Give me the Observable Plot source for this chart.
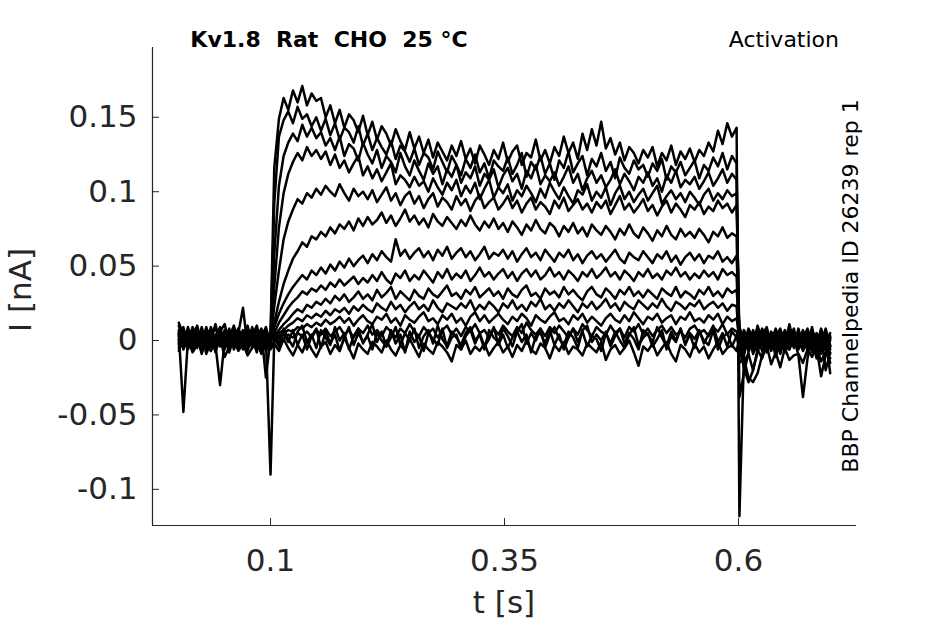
<!DOCTYPE html>
<html>
<head>
<meta charset="utf-8">
<script src="https://cdn.jsdelivr.net/npm/d3@7"></script>
<script src="https://cdn.jsdelivr.net/npm/@observablehq/plot@0.6"></script>
<style>
  html, body { margin: 0; padding: 0; background: #fff; }
  #chart { width: 945px; height: 624px; }
</style>
</head>
<body>
<div id="chart"></div>
<script>
// ---------- tick labels / texts ----------
const xTicks = [0.1, 0.35, 0.6];
const yTicks = [-0.1, -0.05, 0, 0.05, 0.1, 0.15];
const titleText = "Kv1.8\u00a0\u00a0Rat\u00a0\u00a0CHO\u00a0\u00a025 \u00b0C";
const protocolText = "Activation";
const sourceText = "BBP Channelpedia ID 26239 rep 1";
const xLabel = "t [s]";
const yLabel = "I [nA]";

// ---------- sampling windows (s) of the three recorded segments ----------
const segStart = [0.002, 0.104, 0.601];
const segEnd = [0.100, 0.598, 0.698];

// ---------- current traces, values in pA ----------
const tr01Pre = [4,-3,8,1,-5,6,-2,9,0,-4,7,-1,5,-6,3,10,-2,4,-7,1,3];
const tr01Pulse = [116,149,163,155,168,160,171,158,166,161, 163,150,158,146,155,143,152,148,140,151,
  138,147,135,144,139,131,142,134,128,140, 129,137,126,135,123,133,127,121,131,124,
  134,122,129,119,131,125,118,128,122,133, 120,127,131,118,126,123,135,121,128,119,
  130,124,137,126,133,122,139,128,142,131, 147,129,136,125,133,121,130,126,119,128,
  123,130,117,126,121,131,118,127,122,129, 120,128,124,133,127,141,132,146,137,143];
const tr01Post = [-118,-10,3,-6,5,-2,7,-4,2,-8,4,-1,6,-5,1,8,-3,5,-7,2,0];

const tr02Pre = [-2,6,-5,3,10,-1,4,-7,2,8,-3,5,-2,7,0,-6,9,-1,4,-3,2];
const tr02Pulse = [92,137,148,154,146,157,149,152,144,150, 141,149,138,146,135,143,140,133,144,131,
  139,128,136,130,125,134,122,131,127,120, 129,118,126,123,115,127,120,113,124,118,
  111,122,116,125,113,119,109,121,117,114, 123,112,118,126,110,120,115,124,112,119,
  108,121,116,127,113,119,124,111,122,117, 126,114,120,109,123,116,112,121,115,118,
  110,119,114,122,108,117,113,120,111,116, 121,109,118,114,123,117,126,115,124,119];
const tr02Post = [-38,-22,-8,2,-5,6,-3,4,-7,1,5,-4,3,-2,-6,4,0,-5,7,-3,2];

const tr03Pre = [7,0,-4,9,2,-6,5,1,-3,6,11,-2,4,-5,2,8,-4,3,-1,6,0];
const tr03Pulse = [58,104,124,133,139,134,145,137,143,136, 140,131,136,128,137,124,132,129,121,133,
  125,119,128,116,124,120,113,126,117,111, 121,114,108,119,112,117,105,115,110,118,
  106,113,109,117,104,112,108,115,103,111, 116,107,112,102,114,109,118,105,111,107,
  113,104,110,117,106,112,101,109,114,106, 111,103,108,115,105,112,107,101,110,106,
  113,104,109,100,111,106,114,103,108,105, 110,102,107,113,104,109,115,106,112,108];
const tr03Post = [-15,-12,-25,-28,-22,-10,4,-5,2,-9,1,6,-3,5,-4,-1,7,-6,3,-20,-8];

const tr04Pre = [-5,3,7,-2,4,-8,1,6,-4,3,-1,8,-6,2,5,-3,7,0,-9,2,4];
const tr04Pulse = [36,76,99,112,120,126,121,130,124,128, 122,127,118,125,116,121,113,119,124,111,
  117,109,115,107,113,119,105,111,108,103, 110,104,107,100,109,103,98,106,101,108,
  97,104,99,106,95,102,108,96,103,99, 105,94,101,97,104,99,93,102,96,106,
  100,95,103,97,92,101,98,105,94,100, 96,103,91,99,104,95,100,93,98,102,
  94,99,104,92,97,101,95,99,93,100, 96,91,98,102,94,99,95,101,97,99];
const tr04Post = [-5,-18,-28,-20,-8,3,-6,5,-2,4,-7,2,-4,8,-3,1,-6,4,-2,6,-4];

const tr05Pre = [10,-1,3,-6,7,2,-3,5,-7,1,4,-4,9,0,-3,6,-5,2,8,-2,1];
const tr05Pulse = [23,47,68,80,88,95,92,99,96,102, 98,104,100,97,105,99,94,102,97,100,
  95,101,93,98,103,94,99,91,97,100, 92,97,89,95,99,90,96,93,88,97,
  91,95,87,94,98,89,93,96,88,92, 97,89,94,86,92,96,88,93,90,85,
  94,89,96,87,91,95,88,92,86,93, 89,94,85,91,97,88,92,86,90,95,
  87,91,84,90,94,86,92,88,83,91, 88,93,85,90,87,94,89,92,86,91];
const tr05Post = [4,-6,5,-9,-2,6,-4,3,-11,1,-6,-5,2,-10,-38,-12,3,-5,-24,-10,-4];

const tr06Pre = [1,8,-3,4,-1,6,-5,2,9,-2,5,0,-4,6,1,-7,3,10,-1,5,-2];
const tr06Pulse = [12,26,38,47,55,60,66,63,70,68, 73,70,76,72,78,75,80,74,82,77,
  83,78,81,86,79,84,77,82,88,80, 84,78,82,76,85,80,77,83,79,75,
  81,77,84,78,74,80,76,82,75,79, 73,80,76,71,78,74,81,75,72,79,
  76,70,77,73,79,72,76,70,78,74, 71,77,73,68,75,71,78,72,69,76,
  72,67,74,70,77,71,68,75,70,73, 69,75,71,66,73,70,76,69,72,70];
const tr06Post = [-8,2,-5,7,-1,4,-8,1,6,-3,2,-6,5,-1,3,-7,4,-2,6,-1,-9];

const tr07Pre = [-7,2,5,-3,8,-1,3,-6,4,0,-5,7,2,-3,4,-1,6,-4,2,9,-3];
const tr07Pulse = [9,18,25,31,36,40,44,41,47,44, 49,45,51,47,53,49,55,50,54,57,
  52,58,54,60,56,53,68,57,61,55, 59,62,56,60,54,61,57,63,55,59,
  62,56,60,54,58,63,55,59,57,61, 55,60,53,58,62,56,59,54,61,57,
  53,59,56,61,54,58,52,57,60,55, 58,53,57,61,55,52,59,56,54,60,
  56,52,58,55,60,53,57,51,56,59, 54,58,52,57,55,60,53,56,52,57];
const tr07Post = [6,-3,8,1,-6,3,9,-2,4,-5,7,0,-4,6,-1,3,-8,2,5,-3,1];

const tr08Pre = [3,-5,0,6,-4,9,-2,4,-8,5,1,-3,6,-1,-4,7,0,-6,3,-2,5];
const tr08Pulse = [5,12,17,22,26,29,33,31,35,33, 37,34,39,36,41,37,40,43,38,42,
  39,44,40,46,41,38,45,42,47,40, 44,41,47,43,39,46,42,48,41,45,
  42,47,40,44,49,43,46,41,45,48, 42,46,40,45,48,43,47,41,44,49,
  43,46,41,47,44,40,46,43,48,42, 45,49,43,46,41,47,44,40,46,43,
  48,42,45,41,47,44,49,43,46,41, 45,42,47,43,46,41,48,44,46,43];
const tr08Post = [-2,5,-4,2,7,-3,1,-7,3,8,-2,4,-5,1,6,-4,2,-1,-9,4,-6];

const tr09Pre = [12,4,-2,7,0,-5,8,3,-1,6,-4,2,10,-2,3,-6,5,1,-3,7,0];
const tr09Pulse = [3,7,11,14,18,21,19,24,22,26, 24,28,25,30,27,31,26,29,33,28,
  31,27,34,29,32,36,28,33,30,27, 34,30,28,35,31,29,33,37,30,32,
  28,34,31,36,29,32,35,30,33,28, 35,31,29,34,37,30,32,28,35,31,
  33,29,36,31,34,30,27,33,36,31, 29,35,32,28,34,31,36,30,33,29,
  34,31,28,35,32,30,36,29,33,31, 28,34,31,36,30,33,29,35,32,34];
const tr09Post = [9,1,-3,6,-1,8,2,-4,5,0,-3,11,-2,4,-7,1,5,-3,8,-2,3];

const tr10Pre = [-3,1,6,-4,3,-9,2,7,-5,4,-2,5,-1,8,-6,3,0,-4,6,-25,2];
const tr10Pulse = [2,5,7,10,12,15,13,17,15,18, 16,20,17,21,19,22,18,23,20,24,
  21,19,25,22,20,26,21,24,19,23, 26,21,24,20,27,22,19,25,23,21,
  25,22,27,20,24,21,26,23,19,25, 22,27,21,24,20,26,23,28,21,24,
  20,25,22,27,23,19,25,22,26,21, 24,28,22,25,20,26,23,21,27,24,
  21,25,22,28,23,20,26,24,21,25, 23,27,21,24,26,22,25,20,24,23];
const tr10Post = [-4,7,0,-5,3,-2,6,-6,1,4,-8,2,-1,-3,5,-5,2,-12,1,-4,-15];

const tr11Pre = [5,-6,2,8,-3,4,-1,-7,3,9,-2,6,-4,1,7,-5,2,-8,4,0,-90];
const tr11Pulse = [1,3,5,7,6,9,8,11,9,12, 10,14,11,13,16,12,15,10,14,17,
  13,11,16,14,18,12,15,10,17,14, 12,16,19,13,15,11,17,14,18,12,
  15,10,16,19,13,17,12,15,18,14, 11,16,13,18,15,10,17,14,12,16,
  19,13,15,11,17,14,18,12,16,13, 10,15,18,14,12,17,13,19,15,11,
  16,14,18,12,15,17,11,16,14,19, 13,15,12,17,14,18,11,16,13,15];
const tr11Post = [3,-8,6,-2,9,1,-5,3,-1,6,-4,1,8,-6,2,-3,7,-1,4,-7,2];

const tr12Pre = [-1,7,-4,2,6,-2,9,-5,1,4,-6,3,-3,5,22,-4,2,7,-2,4,-5];
const tr12Pulse = [0,2,1,4,2,5,3,6,2,7, 4,8,3,6,9,4,7,2,8,5,
  10,4,7,3,9,6,2,8,5,11, 6,3,9,5,8,2,7,10,4,8,
  3,9,6,11,5,7,2,8,4,10, 6,3,9,5,12,7,4,8,3,9,
  5,10,6,2,8,4,11,7,3,9, 6,4,10,5,8,2,9,6,11,4,
  8,3,7,10,5,9,4,6,2,8, 10,5,7,3,9,6,11,4,8,6];
const tr12Post = [0,4,-7,3,-4,7,-1,5,-3,2,6,-2,3,0,-4,5,-6,3,-2,8,-3];

const tr13Pre = [6,-2,9,-5,1,3,-7,4,-3,-30,0,-6,3,8,-1,5,-4,2,-8,3,1];
const tr13Pulse = [2,-4,5,-1,7,-3,4,-6,3,8, -5,6,-2,4,-7,2,9,-3,5,-1,
  3,-6,5,0,-4,7,-2,4,-8,6, -1,3,-7,5,1,-3,8,-5,2,4,
  -6,3,7,-2,5,-4,1,9,-3,4, -5,2,6,-1,4,-8,3,5,-2,7,
  -3,4,-6,2,8,-1,6,-4,3,1, -7,5,-2,6,0,-5,4,9,-3,2,
  5,-4,1,7,-6,3,-1,8,-2,4, -5,6,0,-3,7,-6,2,5,-4,3];
const tr13Post = [-6,1,3,-4,2,-7,4,-1,8,-3,5,-6,1,4,-2,6,-4,2,-5,3,-22];

const tr14Pre = [5,-48,1,-8,-3,5,-9,-1,-6,2,-11,-4,0,-7,-2,-10,-5,1,-8,-3,-6];
const tr14Pulse = [-2,-7,1,-5,-10,-3,-8,0,-6,-11, -4,-1,-9,-3,-7,2,-5,-12,-2,-6,
  -9,-1,-4,-8,0,-6,-10,-3,-7,1, -5,-11,-2,-6,-9,-1,-4,-8,-14,-3,
  -6,0,-9,-4,-7,-2,-10,-5,-1,-8, -4,-11,-3,-7,0,-6,-9,-2,-5,-12,
  -3,-7,-1,-9,-4,-6,-10,-2,-5,-8, -1,-13,-6,-3,-9,-5,0,-8,-17,-4,
  -7,-2,-10,-5,-1,-9,-14,-3,-6,-11, -2,-8,-4,-12,-6,-1,-9,-5,-3,-7];
const tr14Post = [2,-14,-9,-20,-6,-12,-3,-16,-8,-18,-5,-13,-10,-9,-15,-6,-11,-4,-14,-8,-12];

const tr15Pre = [0,9,-6,3,-2,7,-4,1,11,-3,5,-8,2,6,-5,0,8,-2,4,-7,3];
const tr15Pulse = [5,-2,8,1,-4,6,10,-1,4,-5, 7,2,-3,9,0,5,-6,3,8,-2,
  4,11,-1,6,-4,2,9,-3,5,0, 8,-5,3,7,-2,10,1,-4,6,2,
  -3,5,9,0,4,-6,7,2,-1,8, 3,-4,6,11,-2,5,0,8,-5,4,
  9,1,-3,6,2,-5,7,10,-1,4, 0,6,-4,3,8,-2,5,1,-6,7,
  4,-1,9,2,-4,6,0,8,-3,5, 1,7,-2,4,10,-1,5,-4,6,2];
const tr15Post = [7,-2,4,-5,10,0,-3,6,-1,3,-8,5,2,-4,7,-2,9,-5,1,-3,5];

const traces = [
  ["T01", tr01Pre, tr01Pulse, tr01Post], ["T02", tr02Pre, tr02Pulse, tr02Post],
  ["T03", tr03Pre, tr03Pulse, tr03Post], ["T04", tr04Pre, tr04Pulse, tr04Post],
  ["T05", tr05Pre, tr05Pulse, tr05Post], ["T06", tr06Pre, tr06Pulse, tr06Post],
  ["T07", tr07Pre, tr07Pulse, tr07Post], ["T08", tr08Pre, tr08Pulse, tr08Post],
  ["T09", tr09Pre, tr09Pulse, tr09Post], ["T10", tr10Pre, tr10Pulse, tr10Post],
  ["T11", tr11Pre, tr11Pulse, tr11Post], ["T12", tr12Pre, tr12Pulse, tr12Post],
  ["T13", tr13Pre, tr13Pulse, tr13Post], ["T14", tr14Pre, tr14Pulse, tr14Post],
  ["T15", tr15Pre, tr15Pulse, tr15Post]
];

// long table: one row per sample, times spread evenly over each segment window
const rows = [];
for (const [name, ...segs] of traces) {
  segs.forEach((vals, s) => {
    const n = vals.length;
    vals.forEach((v, i) => {
      rows.push({trace: name, t: segStart[s] + i * (segEnd[s] - segStart[s]) / (n - 1), I: v / 1000});
    });
  });
}

const xDomain = [-0.0261, 0.7261];
const yDomain = [-0.1243, 0.1969];
const axisColor = "#262626";

const chart = Plot.plot({
  width: 945,
  height: 624,
  marginLeft: 152,
  marginRight: 89,
  marginTop: 47,
  marginBottom: 99,
  style: {fontFamily: "DejaVu Sans", fontSize: "31px", color: axisColor, background: "#fff", overflow: "visible"},
  x: {domain: xDomain},
  y: {domain: yDomain},
  marks: [
    Plot.line(rows, {x: "t", y: "I", z: "trace", stroke: "#000", strokeWidth: 2.5, strokeLinejoin: "round"}),
    Plot.ruleX([xDomain[0]], {stroke: axisColor, strokeWidth: 1.2}),
    Plot.ruleY([yDomain[0]], {stroke: axisColor, strokeWidth: 1.2}),
    Plot.axisY(yTicks, {anchor: "left", tickSize: -7, tickPadding: 22, tickFormat: d => String(d), stroke: axisColor, fill: axisColor, fontSize: 31, label: null}),
    Plot.axisX(xTicks, {anchor: "bottom", tickSize: -7, tickPadding: 30, tickFormat: d => String(d), stroke: axisColor, fill: axisColor, fontSize: 31, label: null})
  ]
});

document.getElementById("chart").appendChild(chart);

// ---------- annotation texts ----------
const svg = d3.select(chart);
svg.append("text").attr("x", 329).attr("y", 47).attr("text-anchor", "middle")
  .attr("font-family", "DejaVu Sans").attr("font-weight", "bold").attr("font-size", 22).attr("fill", "#000")
  .text(titleText);
svg.append("text").attr("x", 839).attr("y", 47).attr("text-anchor", "end")
  .attr("font-family", "DejaVu Sans").attr("font-size", 22).attr("fill", "#000")
  .text(protocolText);
svg.append("text").attr("transform", "translate(858,286) rotate(-90)").attr("text-anchor", "middle")
  .attr("font-family", "DejaVu Sans").attr("font-size", 22).attr("fill", "#000")
  .text(sourceText);
svg.append("text").attr("x", 504).attr("y", 613).attr("text-anchor", "middle")
  .attr("font-family", "DejaVu Sans").attr("font-size", 31).attr("fill", axisColor)
  .text(xLabel);
svg.append("text").attr("transform", "translate(31,290) rotate(-90)").attr("text-anchor", "middle")
  .attr("font-family", "DejaVu Sans").attr("font-size", 31).attr("fill", axisColor)
  .text(yLabel);
</script>
</body>
</html>
